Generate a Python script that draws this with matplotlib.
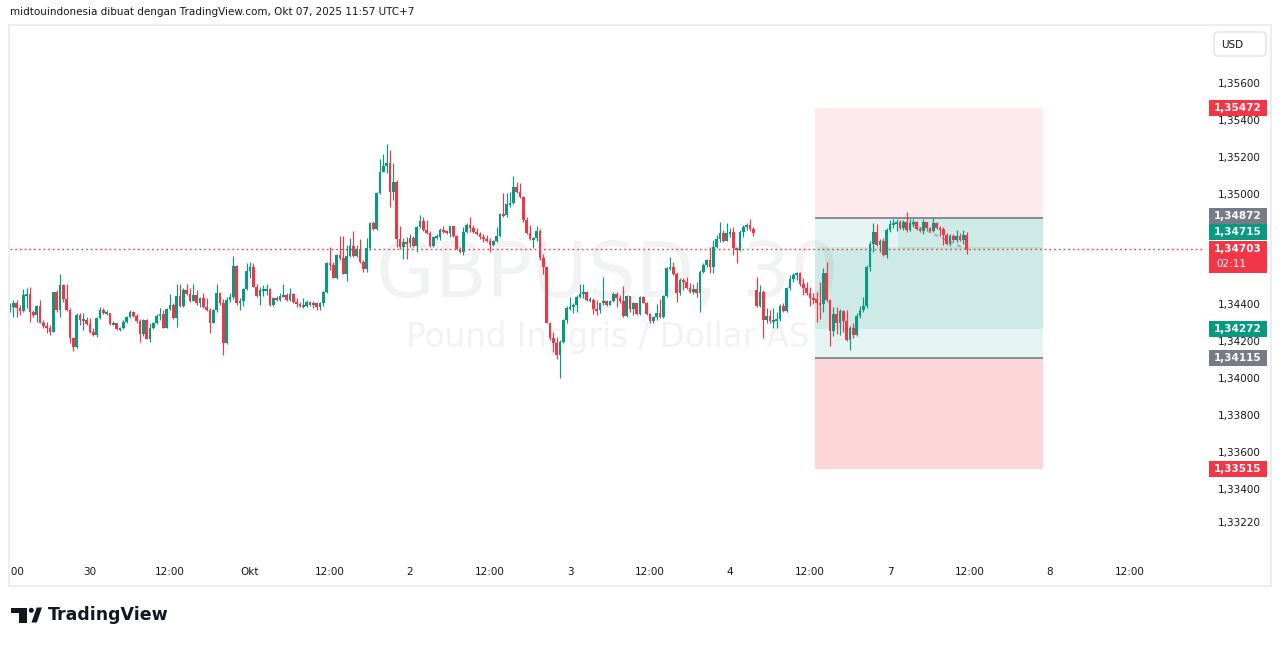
import numpy as np
import matplotlib
matplotlib.use("Agg")
import matplotlib.pyplot as plt
from matplotlib.patches import Rectangle, FancyBboxPatch, Polygon, Circle

plt.rcParams['font.family'] = ['DejaVu Sans']

UP = '#089981'
DOWN = '#F23645'
GRAY = '#787B86'
TEXT = '#131722'

# GBPUSD 30m candles, Sep 29 12:00 -> Oct 7 11:30 (UTC+7), weekend removed
opens = [
    1.34375, 1.34391, 1.34413, 1.34386, 1.34369, 1.34456, 1.34462, 1.34364, 1.34348, 1.34397,
    1.34304, 1.34288, 1.34277, 1.34256, 1.34472, 1.34375, 1.34510, 1.34434, 1.34375, 1.34223,
    1.34174, 1.34348, 1.34321, 1.34321, 1.34299, 1.34256, 1.34239, 1.34331, 1.34375, 1.34359,
    1.34359, 1.34299, 1.34304, 1.34272, 1.34277, 1.34310, 1.34337, 1.34364, 1.34342, 1.34315,
    1.34245, 1.34321, 1.34218, 1.34277, 1.34304, 1.34342, 1.34353, 1.34277, 1.34380, 1.34402,
    1.34331, 1.34451, 1.34397, 1.34483, 1.34462, 1.34424, 1.34456, 1.34413, 1.34440, 1.34391,
    1.34375, 1.34304, 1.34375, 1.34467, 1.34413, 1.34196, 1.34429, 1.34445, 1.34613, 1.34413,
    1.34424, 1.34489, 1.34586, 1.34608, 1.34500, 1.34451, 1.34483, 1.34483, 1.34489, 1.34402,
    1.34440, 1.34429, 1.34451, 1.34456, 1.34429, 1.34462, 1.34418, 1.34407, 1.34397, 1.34397,
    1.34418, 1.34402, 1.34413, 1.34391, 1.34413, 1.34472, 1.34630, 1.34619, 1.34548, 1.34673,
    1.34657, 1.34570, 1.34667, 1.34722, 1.34667, 1.34705, 1.34635, 1.34597, 1.34711, 1.34846,
    1.34814, 1.35009, 1.35123, 1.35155, 1.35172, 1.35014, 1.35069, 1.34760, 1.34716, 1.34743,
    1.34738, 1.34765, 1.34722, 1.34825, 1.34857, 1.34808, 1.34792, 1.34722, 1.34770, 1.34770,
    1.34808, 1.34803, 1.34792, 1.34830, 1.34776, 1.34705, 1.34689, 1.34798, 1.34836, 1.34819,
    1.34798, 1.34787, 1.34770, 1.34760, 1.34749, 1.34727, 1.34749, 1.34776, 1.34895, 1.34890,
    1.34949, 1.34955, 1.35042, 1.35014, 1.34987, 1.34863, 1.34792, 1.34760, 1.34765, 1.34803,
    1.34657, 1.34608, 1.34304, 1.34223, 1.34196, 1.34131, 1.34201, 1.34321, 1.34386, 1.34391,
    1.34402, 1.34445, 1.34462, 1.34472, 1.34429, 1.34429, 1.34380, 1.34375, 1.34413, 1.34424,
    1.34402, 1.34424, 1.34462, 1.34440, 1.34424, 1.34342, 1.34451, 1.34380, 1.34413, 1.34353,
    1.34445, 1.34413, 1.34353, 1.34315, 1.34337, 1.34359, 1.34337, 1.34451, 1.34602, 1.34608,
    1.34570, 1.34467, 1.34537, 1.34527, 1.34494, 1.34472, 1.34489, 1.34467, 1.34581, 1.34619,
    1.34646, 1.34608, 1.34716, 1.34760, 1.34792, 1.34749, 1.34792, 1.34798, 1.34711, 1.34700,
    1.34798, 1.34825, 1.34836, 1.34814, 1.34483, 1.34397, 1.34472, 1.34321, 1.34342, 1.34315,
    1.34321, 1.34326, 1.34397, 1.34369, 1.34494, 1.34543, 1.34565, 1.34575, 1.34516, 1.34494,
    1.34467, 1.34440, 1.34434, 1.34413, 1.34407, 1.34575, 1.34429, 1.34261, 1.34353, 1.34304,
    1.34369, 1.34315, 1.34212, 1.34277, 1.34239, 1.34342, 1.34375, 1.34397, 1.34608, 1.34732,
    1.34798, 1.34727, 1.34749, 1.34673, 1.34808, 1.34841, 1.34846, 1.34852, 1.34819, 1.34852,
    1.34808, 1.34846, 1.34852, 1.34814, 1.34803, 1.34852, 1.34819, 1.34803, 1.34846, 1.34819,
    1.34814, 1.34781, 1.34732, 1.34776, 1.34754, 1.34776, 1.34754, 1.34781,
]
highs = [
    1.34413, 1.34429, 1.34429, 1.34402, 1.34489, 1.34494, 1.34500, 1.34375, 1.34402, 1.34429,
    1.34321, 1.34310, 1.34294, 1.34472, 1.34483, 1.34570, 1.34516, 1.34516, 1.34386, 1.34229,
    1.34359, 1.34359, 1.34359, 1.34337, 1.34331, 1.34277, 1.34337, 1.34391, 1.34386, 1.34375,
    1.34359, 1.34315, 1.34294, 1.34283, 1.34321, 1.34342, 1.34375, 1.34369, 1.34353, 1.34326,
    1.34326, 1.34326, 1.34304, 1.34310, 1.34353, 1.34386, 1.34375, 1.34386, 1.34462, 1.34413,
    1.34516, 1.34516, 1.34494, 1.34516, 1.34494, 1.34516, 1.34483, 1.34445, 1.34467, 1.34440,
    1.34386, 1.34380, 1.34516, 1.34472, 1.34434, 1.34445, 1.34467, 1.34667, 1.34619, 1.34440,
    1.34494, 1.34630, 1.34635, 1.34630, 1.34516, 1.34500, 1.34510, 1.34516, 1.34494, 1.34445,
    1.34451, 1.34467, 1.34516, 1.34467, 1.34494, 1.34467, 1.34440, 1.34418, 1.34440, 1.34429,
    1.34424, 1.34424, 1.34418, 1.34418, 1.34478, 1.34635, 1.34716, 1.34635, 1.34678, 1.34776,
    1.34776, 1.34727, 1.34765, 1.34803, 1.34727, 1.34760, 1.34646, 1.34765, 1.34852, 1.34857,
    1.35014, 1.35193, 1.35220, 1.35275, 1.35242, 1.35172, 1.35080, 1.34830, 1.34765, 1.34770,
    1.34787, 1.34776, 1.34830, 1.34890, 1.34879, 1.34863, 1.34803, 1.34776, 1.34787, 1.34819,
    1.34830, 1.34808, 1.34830, 1.34830, 1.34781, 1.34716, 1.34825, 1.34846, 1.34879, 1.34836,
    1.34819, 1.34798, 1.34787, 1.34781, 1.34765, 1.34754, 1.34825, 1.34901, 1.35009, 1.35009,
    1.35014, 1.35101, 1.35069, 1.35063, 1.34993, 1.34879, 1.34836, 1.34770, 1.34830, 1.34814,
    1.34678, 1.34608, 1.34310, 1.34256, 1.34229, 1.34212, 1.34326, 1.34397, 1.34445, 1.34413,
    1.34456, 1.34516, 1.34516, 1.34478, 1.34445, 1.34440, 1.34429, 1.34413, 1.34554, 1.34429,
    1.34429, 1.34472, 1.34472, 1.34456, 1.34505, 1.34456, 1.34413, 1.34418, 1.34402, 1.34451,
    1.34451, 1.34418, 1.34359, 1.34342, 1.34407, 1.34434, 1.34456, 1.34608, 1.34662, 1.34635,
    1.34581, 1.34548, 1.34548, 1.34554, 1.34521, 1.34516, 1.34527, 1.34592, 1.34630, 1.34651,
    1.34716, 1.34754, 1.34781, 1.34852, 1.34808, 1.34846, 1.34819, 1.34825, 1.34716, 1.34808,
    1.34836, 1.34846, 1.34868, 1.34825, 1.34554, 1.34510, 1.34483, 1.34386, 1.34375, 1.34386,
    1.34364, 1.34407, 1.34413, 1.34500, 1.34565, 1.34575, 1.34581, 1.34581, 1.34548, 1.34527,
    1.34500, 1.34467, 1.34472, 1.34527, 1.34602, 1.34635, 1.34434, 1.34391, 1.34391, 1.34380,
    1.34375, 1.34375, 1.34288, 1.34304, 1.34359, 1.34397, 1.34445, 1.34619, 1.34749, 1.34846,
    1.34841, 1.34760, 1.34765, 1.34819, 1.34863, 1.34868, 1.34868, 1.34863, 1.34863, 1.34906,
    1.34868, 1.34868, 1.34857, 1.34825, 1.34868, 1.34852, 1.34825, 1.34874, 1.34852, 1.34830,
    1.34825, 1.34792, 1.34787, 1.34787, 1.34808, 1.34792, 1.34808, 1.34798,
]
lows = [
    1.34364, 1.34337, 1.34337, 1.34348, 1.34364, 1.34386, 1.34310, 1.34337, 1.34310, 1.34304,
    1.34277, 1.34250, 1.34239, 1.34256, 1.34364, 1.34337, 1.34418, 1.34369, 1.34196, 1.34153,
    1.34169, 1.34294, 1.34266, 1.34294, 1.34250, 1.34234, 1.34229, 1.34326, 1.34353, 1.34348,
    1.34294, 1.34294, 1.34266, 1.34261, 1.34272, 1.34304, 1.34331, 1.34337, 1.34304, 1.34201,
    1.34234, 1.34218, 1.34201, 1.34272, 1.34299, 1.34321, 1.34277, 1.34277, 1.34375, 1.34326,
    1.34283, 1.34391, 1.34391, 1.34456, 1.34418, 1.34424, 1.34402, 1.34391, 1.34386, 1.34369,
    1.34250, 1.34304, 1.34364, 1.34402, 1.34131, 1.34191, 1.34418, 1.34434, 1.34402, 1.34375,
    1.34397, 1.34483, 1.34548, 1.34500, 1.34445, 1.34402, 1.34451, 1.34456, 1.34397, 1.34397,
    1.34424, 1.34424, 1.34445, 1.34424, 1.34424, 1.34413, 1.34391, 1.34391, 1.34386, 1.34391,
    1.34397, 1.34386, 1.34375, 1.34375, 1.34397, 1.34467, 1.34592, 1.34548, 1.34543, 1.34646,
    1.34570, 1.34532, 1.34662, 1.34662, 1.34662, 1.34630, 1.34581, 1.34581, 1.34700, 1.34808,
    1.34808, 1.35004, 1.35123, 1.35118, 1.34933, 1.34971, 1.34716, 1.34705, 1.34651, 1.34651,
    1.34716, 1.34716, 1.34689, 1.34819, 1.34803, 1.34787, 1.34716, 1.34716, 1.34760, 1.34754,
    1.34792, 1.34787, 1.34770, 1.34770, 1.34700, 1.34684, 1.34673, 1.34792, 1.34798, 1.34792,
    1.34781, 1.34760, 1.34743, 1.34743, 1.34689, 1.34722, 1.34743, 1.34770, 1.34879, 1.34879,
    1.34933, 1.34949, 1.35009, 1.34982, 1.34852, 1.34787, 1.34754, 1.34711, 1.34749, 1.34646,
    1.34570, 1.34304, 1.34212, 1.34147, 1.34109, 1.34006, 1.34196, 1.34304, 1.34375, 1.34359,
    1.34364, 1.34440, 1.34440, 1.34424, 1.34418, 1.34353, 1.34348, 1.34359, 1.34402, 1.34397,
    1.34402, 1.34418, 1.34391, 1.34413, 1.34337, 1.34337, 1.34364, 1.34348, 1.34348, 1.34348,
    1.34413, 1.34348, 1.34304, 1.34304, 1.34321, 1.34331, 1.34331, 1.34445, 1.34592, 1.34565,
    1.34418, 1.34456, 1.34483, 1.34489, 1.34467, 1.34462, 1.34445, 1.34364, 1.34575, 1.34608,
    1.34575, 1.34575, 1.34711, 1.34743, 1.34743, 1.34749, 1.34770, 1.34673, 1.34630, 1.34695,
    1.34770, 1.34808, 1.34803, 1.34776, 1.34391, 1.34391, 1.34223, 1.34304, 1.34304, 1.34277,
    1.34277, 1.34315, 1.34364, 1.34364, 1.34483, 1.34527, 1.34537, 1.34505, 1.34456, 1.34456,
    1.34397, 1.34407, 1.34310, 1.34326, 1.34364, 1.34418, 1.34180, 1.34234, 1.34245, 1.34239,
    1.34256, 1.34207, 1.34158, 1.34223, 1.34234, 1.34331, 1.34364, 1.34386, 1.34586, 1.34689,
    1.34722, 1.34689, 1.34667, 1.34657, 1.34798, 1.34819, 1.34803, 1.34814, 1.34808, 1.34798,
    1.34803, 1.34825, 1.34808, 1.34798, 1.34787, 1.34808, 1.34798, 1.34798, 1.34814, 1.34776,
    1.34727, 1.34727, 1.34722, 1.34743, 1.34743, 1.34749, 1.34732, 1.34678,
]
closes = [
    1.34391, 1.34413, 1.34386, 1.34369, 1.34456, 1.34462, 1.34364, 1.34348, 1.34397, 1.34304,
    1.34288, 1.34277, 1.34256, 1.34472, 1.34375, 1.34510, 1.34434, 1.34375, 1.34223, 1.34174,
    1.34348, 1.34321, 1.34321, 1.34299, 1.34256, 1.34239, 1.34331, 1.34375, 1.34359, 1.34359,
    1.34299, 1.34304, 1.34272, 1.34277, 1.34310, 1.34337, 1.34364, 1.34342, 1.34315, 1.34245,
    1.34321, 1.34218, 1.34277, 1.34304, 1.34342, 1.34353, 1.34277, 1.34380, 1.34402, 1.34331,
    1.34451, 1.34397, 1.34483, 1.34462, 1.34424, 1.34456, 1.34413, 1.34440, 1.34391, 1.34375,
    1.34304, 1.34375, 1.34467, 1.34413, 1.34196, 1.34429, 1.34445, 1.34613, 1.34413, 1.34424,
    1.34489, 1.34586, 1.34608, 1.34500, 1.34451, 1.34483, 1.34483, 1.34489, 1.34402, 1.34440,
    1.34429, 1.34451, 1.34456, 1.34429, 1.34462, 1.34418, 1.34407, 1.34397, 1.34397, 1.34418,
    1.34402, 1.34413, 1.34391, 1.34413, 1.34472, 1.34630, 1.34619, 1.34548, 1.34673, 1.34657,
    1.34570, 1.34667, 1.34722, 1.34667, 1.34705, 1.34635, 1.34597, 1.34711, 1.34846, 1.34814,
    1.35009, 1.35123, 1.35155, 1.35172, 1.35014, 1.35069, 1.34760, 1.34716, 1.34743, 1.34738,
    1.34765, 1.34722, 1.34825, 1.34857, 1.34808, 1.34792, 1.34722, 1.34770, 1.34770, 1.34808,
    1.34803, 1.34792, 1.34830, 1.34776, 1.34705, 1.34689, 1.34798, 1.34836, 1.34819, 1.34798,
    1.34787, 1.34770, 1.34760, 1.34749, 1.34727, 1.34749, 1.34776, 1.34895, 1.34890, 1.34949,
    1.34955, 1.35042, 1.35014, 1.34987, 1.34863, 1.34792, 1.34760, 1.34765, 1.34803, 1.34657,
    1.34608, 1.34304, 1.34223, 1.34196, 1.34131, 1.34201, 1.34321, 1.34386, 1.34391, 1.34402,
    1.34445, 1.34462, 1.34472, 1.34429, 1.34429, 1.34380, 1.34375, 1.34413, 1.34424, 1.34402,
    1.34424, 1.34462, 1.34440, 1.34424, 1.34342, 1.34451, 1.34380, 1.34413, 1.34353, 1.34445,
    1.34413, 1.34353, 1.34315, 1.34337, 1.34359, 1.34337, 1.34451, 1.34602, 1.34608, 1.34570,
    1.34467, 1.34537, 1.34527, 1.34494, 1.34472, 1.34489, 1.34467, 1.34581, 1.34619, 1.34646,
    1.34608, 1.34716, 1.34760, 1.34792, 1.34749, 1.34792, 1.34798, 1.34711, 1.34700, 1.34798,
    1.34825, 1.34836, 1.34814, 1.34792, 1.34397, 1.34472, 1.34321, 1.34342, 1.34315, 1.34321,
    1.34326, 1.34397, 1.34369, 1.34494, 1.34543, 1.34565, 1.34575, 1.34516, 1.34494, 1.34467,
    1.34440, 1.34434, 1.34413, 1.34407, 1.34575, 1.34429, 1.34261, 1.34353, 1.34304, 1.34369,
    1.34315, 1.34212, 1.34277, 1.34239, 1.34342, 1.34375, 1.34397, 1.34608, 1.34732, 1.34798,
    1.34727, 1.34749, 1.34673, 1.34808, 1.34841, 1.34846, 1.34852, 1.34819, 1.34852, 1.34808,
    1.34846, 1.34852, 1.34814, 1.34803, 1.34852, 1.34819, 1.34803, 1.34846, 1.34819, 1.34814,
    1.34781, 1.34732, 1.34776, 1.34754, 1.34776, 1.34754, 1.34781, 1.34703,
]

time_ticks = [0, 24, 48, 72, 96, 120, 144, 168, 192, 216, 240, 264, 288, 312, 336]
time_labels = ['12:00', '30', '12:00', 'Okt', '12:00', '2', '12:00', '3',
               '12:00', '4', '12:00', '7', '12:00', '8', '12:00']
# scale labels that stay visible (1,34800 and 1,34600 sit under the price tags)
price_ticks = [1.356, 1.354, 1.352, 1.350, 1.344, 1.342,
               1.340, 1.338, 1.336, 1.334, 1.3322]

# position tools (short + long)
short_entry, short_stop, short_target = 1.34872, 1.35472, 1.34272
long_entry, long_stop, long_target = 1.34115, 1.33515, 1.34715
tool_start, tool_end = 241.5, 310.0
short_trigger = 266.5
countdown = '02:11'
header = 'midtouindonesia dibuat dengan TradingView.com, Okt 07, 2025 11:57 UTC+7'

W, H = 1281, 646
fig = plt.figure(figsize=(W / 100, H / 100), dpi=100)
fig.patch.set_facecolor('white')


def box(x0, y0, x1, y1):
    # pixel rectangle (top-left origin) -> figure fraction
    return [x0 / W, 1 - y1 / H, (x1 - x0) / W, (y1 - y0) / H]


YTOP, YBOT = 1.359195, 1.330361
XMIN, XMAX = 0.0, 358.5
ppx = (YTOP - YBOT) / 532.0   # price per pixel

ax = fig.add_axes(box(10, 25, 1205, 557))
ax.set_xlim(XMIN, XMAX)
ax.set_ylim(YBOT, YTOP)
ax.axis('off')

# watermark
wm = '#F1F2F4'
ax.text(0.5, 0.489, 'GBPUSD, 30', transform=ax.transAxes, ha='center',
        va='baseline', fontsize=54.5, color=wm, zorder=0)
ax.text(0.5, 0.395, 'Pound Inggris / Dollar AS', transform=ax.transAxes,
        ha='center', va='baseline', fontsize=23.5, color=wm, zorder=0)

# position tool zones
w = tool_end - tool_start
ax.add_patch(Rectangle((tool_start, short_entry), w, short_stop - short_entry,
                       fc=DOWN, alpha=0.10, ec='none', zorder=1))
ax.add_patch(Rectangle((tool_start, short_target), w, short_entry - short_target,
                       fc=UP, alpha=0.10, ec='none', zorder=1))
ax.add_patch(Rectangle((tool_start, long_stop), w, long_entry - long_stop,
                       fc=DOWN, alpha=0.20, ec='none', zorder=1))
ax.add_patch(Rectangle((tool_start, long_entry), w, long_target - long_entry,
                       fc=UP, alpha=0.10, ec='none', zorder=1))
ax.add_patch(Rectangle((short_trigger, closes[-1]), tool_end - short_trigger,
                       short_entry - closes[-1], fc=UP, alpha=0.10, ec='none', zorder=1))
ax.hlines([short_entry, long_entry], tool_start, tool_end, colors=GRAY,
          linewidth=1.2, zorder=2)
ax.plot([short_trigger + 4, len(closes) - 1], [short_entry - 0.0003, closes[-1]],
        color='#A3A6AF', lw=1.2, ls=(0, (2.5, 2.5)), zorder=2)

# last price line
ax.axhline(closes[-1], color=DOWN, lw=1.0, ls=(0, (1.2, 2.2)), zorder=2)

# candles
o = np.array(opens)
c = np.array(closes)
hi = np.array(highs)
lo = np.array(lows)
idx = np.arange(len(c))
cols = np.where(c >= o, UP, DOWN)
top = np.maximum(hi, np.maximum(o, c))
bot = np.minimum(lo, np.minimum(o, c))
ax.vlines(idx, bot, top, colors=cols, linewidth=0.85, zorder=3)
body_h = np.maximum(np.abs(c - o), 1.2 * ppx)
body_b = np.where(np.abs(c - o) < 1.2 * ppx, np.minimum(o, c) - 0.6 * ppx, np.minimum(o, c))
ax.bar(idx, body_h, bottom=body_b, width=0.78, color=cols, linewidth=0, zorder=4)

# price scale
pax = fig.add_axes(box(1205, 25, 1271, 557))
pax.set_xlim(0, 66)
pax.set_ylim(YBOT, YTOP)
pax.axis('off')


def fmt(p):
    return f'{p:.5f}'.replace('.', ',')


for p in price_ticks:
    pax.text(34, p, fmt(p), ha='center', va='center', fontsize=7.5,
             color=TEXT, zorder=1)

# (price, colour, upward shift of the label in px to avoid collisions)
marks = [(short_stop, DOWN, 0), (short_entry, GRAY, 2.3), (long_target, UP, 15.2),
         (short_target, UP, 0), (long_entry, GRAY, 0), (long_stop, DOWN, 0)]
for p, colr, sh in marks:
    yc = p + sh * ppx
    pax.add_patch(Rectangle((4, yc - 8 * ppx), 58, 16 * ppx, fc=colr, ec='none', zorder=3))
    pax.text(33, yc, fmt(p), ha='center', va='center', fontsize=7.5,
             color='white', fontweight='bold', zorder=4)

lp = closes[-1]
pax.add_patch(Rectangle((4, lp - 23.5 * ppx), 58, 32 * ppx, fc=DOWN, ec='none', zorder=5))
pax.text(33, lp, fmt(lp), ha='center', va='center', fontsize=7.5,
         color='white', fontweight='bold', zorder=6)
pax.text(26, lp - 15 * ppx, countdown, ha='center', va='center', fontsize=7.5,
         color='white', zorder=6)

# time scale (clip box starts 2 px left of the pane so the ':00' shows)
tax = fig.add_axes(box(8, 557, 1205, 586))
tax.set_xlim(XMIN - 2 / 3.3333, XMAX)
tax.set_ylim(0, 1)
tax.axis('off')
for t, lab in zip(time_ticks, time_labels):
    tax.text(t, 0.48, lab, ha='center', va='center', fontsize=7.5,
             color=TEXT, clip_on=True)

# decorations in pixel space
deco = fig.add_axes([0, 0, 1, 1])
deco.set_xlim(0, W)
deco.set_ylim(H, 0)
deco.axis('off')
bc = '#ECEEF2'
deco.plot([9, 1271, 1271, 9, 9], [25, 25, 586, 586, 25], color=bc, lw=1.5)
deco.text(10, 12, header, fontsize=7.5, color=TEXT, va='center', ha='left')
deco.add_patch(FancyBboxPatch((1214, 32), 52, 24, boxstyle='round,pad=0,rounding_size=4',
                              fc='white', ec='#E0E3EB', lw=1))
deco.text(1232, 44.5, 'USD', fontsize=7.5, color=TEXT, ha='center', va='center')

# TradingView logo
deco.add_patch(Polygon([(11, 607.5), (26.5, 607.5), (26.5, 622.5), (19, 622.5),
                        (19, 613), (11, 613)], closed=True, fc='#131722', ec='none'))
deco.add_patch(Circle((31.3, 610.3), 2.5, fc='#131722', ec='none'))
deco.add_patch(Polygon([(31.5, 622.5), (36.8, 622.5), (42, 607.5), (36.8, 607.5)],
                       closed=True, fc='#131722', ec='none'))
deco.text(48, 615, 'TradingView', fontsize=12.5, fontweight='bold', color='#131722',
          ha='left', va='center')

fig.savefig('out.png', dpi=100)
